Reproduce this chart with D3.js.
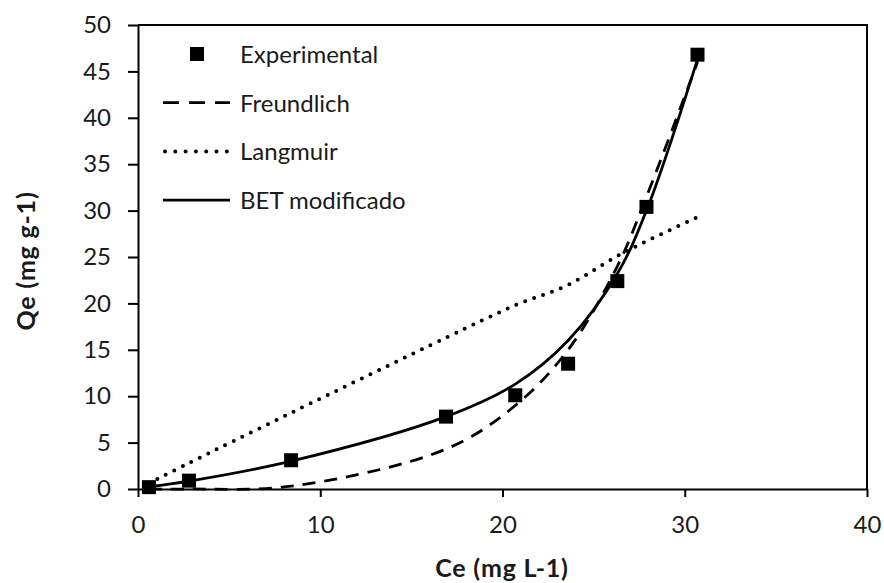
<!DOCTYPE html>
<html>
<head>
<meta charset="utf-8">
<script src="https://cdn.jsdelivr.net/npm/d3@7"></script>
<style>
  html, body { margin: 0; padding: 0; background: #fff; }
  svg { display: block; font-family: Lato, "Open Sans", sans-serif; }
</style>
</head>
<body>
<div id="chart"></div>
<script>
// Ce values (mg L-1) of the experimental points
const ce = [0.6, 2.8, 8.4, 16.9, 20.7, 23.6, 26.3, 27.9, 30.7];
// Experimental Qe (mg g-1)
const qeExperimental = [0.2, 0.9, 3.1, 7.8, 10.1, 13.5, 22.4, 30.4, 46.8];
// Fitted models read at the same Ce values
const qeFreundlich = [0.0, 0.0, 0.3, 4.3, 9.0, 15.0, 24.0, 31.5, 46.0];
const qeLangmuir = [0.6, 2.8, 8.2, 16.3, 19.8, 22.0, 25.1, 26.7, 29.3];
const qeBet = [0.25, 0.85, 3.0, 7.8, 11.3, 16.0, 23.2, 30.0, 46.3];

const xTicks = [0, 10, 20, 30, 40];
const yTicks = [0, 5, 10, 15, 20, 25, 30, 35, 40, 45, 50];

const width = 884;
const height = 583;
const margin = { top: 25, right: 17, bottom: 94, left: 138 };
const textColor = '#1a1a1a';

const svg = d3.select('#chart').append('svg')
  .attr('width', width)
  .attr('height', height);

const x = d3.scaleLinear()
  .domain([0, 40])
  .range([margin.left, width - margin.right]);

const y = d3.scaleLinear()
  .domain([0, 50])
  .range([height - margin.bottom, margin.top]);

// plot area border (top and right)
svg.append('path')
  .attr('d', `M${x(0)},${y(50)}H${x(40)}V${y(0)}`)
  .attr('fill', 'none')
  .attr('stroke', '#000')
  .attr('stroke-width', 2);

// axes
const xAxis = svg.append('g')
  .attr('transform', `translate(0,${y(0)})`)
  .call(d3.axisBottom(x).tickValues(xTicks).tickSize(8).tickSizeOuter(0).tickPadding(19));

const yAxis = svg.append('g')
  .attr('transform', `translate(${x(0)},0)`)
  .call(d3.axisLeft(y).tickValues(yTicks).tickSize(10).tickSizeOuter(0).tickPadding(17));

[xAxis, yAxis].forEach((g) => {
  g.select('.domain').attr('stroke', '#000').attr('stroke-width', 2);
  g.selectAll('.tick line').attr('stroke', '#000').attr('stroke-width', 2);
  g.selectAll('.tick text')
    .attr('fill', textColor)
    .style('font-size', '24px')
    .style('font-family', 'Lato, "Open Sans", sans-serif');
});

// axis titles
svg.append('text')
  .attr('x', 502)
  .attr('y', 577)
  .attr('text-anchor', 'middle')
  .style('font-size', '25px')
  .style('font-weight', 'bold')
  .style('letter-spacing', '0.8px')
  .attr('fill', textColor)
  .text('Ce (mg L-1)');

svg.append('text')
  .attr('transform', 'translate(35,261) rotate(-90)')
  .attr('text-anchor', 'middle')
  .style('font-size', '25px')
  .style('font-weight', 'bold')
  .style('letter-spacing', '0.8px')
  .attr('fill', textColor)
  .text('Qe (mg g-1)');

// model curves
const pts = (vals) => ce.map((c, i) => [c, vals[i]]);
const line = d3.line()
  .x((d) => x(d[0]))
  .y((d) => y(d[1]))
  .curve(d3.curveCatmullRom.alpha(0.5));

const series = [
  { label: 'Freundlich', values: qeFreundlich, dash: '13,9', legendDash: '16,10', width: 2.8, cap: 'butt' },
  { label: 'Langmuir', values: qeLangmuir, dash: '0,9.5', legendDash: '0,10.3', width: 4, cap: 'round' },
  { label: 'BET modificado', values: qeBet, dash: null, legendDash: null, width: 2.8, cap: 'butt' },
];

series.forEach((s) => {
  svg.append('path')
    .datum(pts(s.values))
    .attr('fill', 'none')
    .attr('stroke', '#000')
    .attr('stroke-width', s.width)
    .attr('stroke-linecap', s.cap)
    .attr('stroke-dasharray', s.dash)
    .attr('d', line);
});

// experimental points
const size = 14;
svg.append('g')
  .selectAll('rect')
  .data(pts(qeExperimental))
  .join('rect')
  .attr('x', (d) => x(d[0]) - size / 2)
  .attr('y', (d) => y(d[1]) - size / 2)
  .attr('width', size)
  .attr('height', size)
  .attr('fill', '#000');

// legend
const legend = svg.append('g').attr('transform', 'translate(163,54)');
const rowH = 48.7;

legend.append('rect')
  .attr('x', 34 - size / 2)
  .attr('y', -size / 2)
  .attr('width', size)
  .attr('height', size)
  .attr('fill', '#000');

legend.append('text')
  .attr('x', 77)
  .attr('y', 9)
  .style('font-size', '24px')
  .attr('fill', textColor)
  .text('Experimental');

series.forEach((s, i) => {
  const yy = rowH * (i + 1);
  legend.append('line')
    .attr('x1', s.cap === 'round' ? 2 : 0)
    .attr('x2', 67)
    .attr('y1', yy)
    .attr('y2', yy)
    .attr('stroke', '#000')
    .attr('stroke-width', s.width)
    .attr('stroke-linecap', s.cap)
    .attr('stroke-dasharray', s.legendDash);
  legend.append('text')
    .attr('x', 77)
    .attr('y', yy + 9)
    .style('font-size', '24px')
    .attr('fill', textColor)
    .text(s.label);
});
</script>
</body>
</html>
